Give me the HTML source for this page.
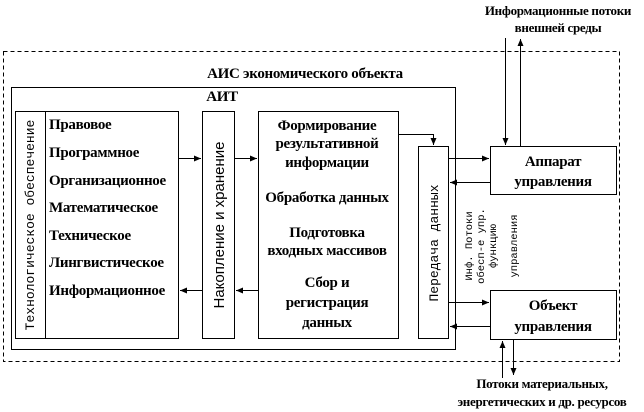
<!DOCTYPE html>
<html><head><meta charset="utf-8"><style>
html,body{margin:0;padding:0;background:#fff;}
svg{display:block;}
.t{font-family:"Liberation Serif",serif;font-weight:bold;font-size:15px;fill:#000;letter-spacing:-0.3px;}
</style></head><body>
<svg width="644" height="412" viewBox="0 0 644 412" xmlns="http://www.w3.org/2000/svg">
<defs>
<marker id="a" markerWidth="8" markerHeight="8" refX="7" refY="4" orient="auto" markerUnits="userSpaceOnUse">
<path d="M0,1 L7,4 L0,7 Z" fill="#000"/></marker>
</defs>
<g fill="none" stroke="#000" stroke-width="1">
<rect x="3.5" y="51.5" width="616" height="310" stroke-dasharray="4,3"/>
<rect x="11.5" y="87.5" width="444" height="262"/>
<rect x="15.5" y="111.5" width="163" height="227"/>
<line x1="45.5" y1="111.5" x2="45.5" y2="338.5"/>
<rect x="202.5" y="111.5" width="32" height="227"/>
<rect x="258.5" y="111.5" width="140" height="227"/>
<rect x="418.5" y="146.5" width="30" height="192"/>
<rect x="490.5" y="146.5" width="126" height="48"/>
<rect x="490.5" y="290.5" width="126" height="49"/>
<line x1="178" y1="158.5" x2="201" y2="158.5" marker-end="url(#a)"/>
<line x1="234" y1="158.5" x2="257" y2="158.5" marker-end="url(#a)"/>
<line x1="202" y1="290.5" x2="180" y2="290.5" marker-end="url(#a)"/>
<line x1="258" y1="290.5" x2="236" y2="290.5" marker-end="url(#a)"/>
<polyline points="398,134.5 433.5,134.5 433.5,145" marker-end="url(#a)"/>
<line x1="448" y1="158.5" x2="489" y2="158.5" marker-end="url(#a)"/>
<line x1="490" y1="182.5" x2="450" y2="182.5" marker-end="url(#a)"/>
<line x1="448" y1="302.5" x2="489" y2="302.5" marker-end="url(#a)"/>
<line x1="490" y1="326.5" x2="450" y2="326.5" marker-end="url(#a)"/>
<line x1="505.5" y1="38" x2="505.5" y2="145" marker-end="url(#a)"/>
<line x1="520.5" y1="146" x2="520.5" y2="39" marker-end="url(#a)"/>
<line x1="502.5" y1="378" x2="502.5" y2="341" marker-end="url(#a)"/>
<line x1="513.5" y1="340" x2="513.5" y2="375" marker-end="url(#a)"/>
</g>
<text class="t" x="305" y="78" text-anchor="middle" font-size="16">АИС экономического объекта</text>
<text class="t" x="222" y="101" text-anchor="middle" font-size="16">АИТ</text>
<text class="t" x="49" y="129">Правовое</text>
<text class="t" x="49" y="157">Программное</text>
<text class="t" x="49" y="185">Организационное</text>
<text class="t" x="49" y="212">Математическое</text>
<text class="t" x="49" y="240">Техническое</text>
<text class="t" x="49" y="267">Лингвистическое</text>
<text class="t" x="49" y="295">Информационное</text>
<g class="t" text-anchor="middle">
<text x="327" y="130">Формирование</text>
<text x="327" y="148">результативной</text>
<text x="327" y="167">информации</text>
<text x="327" y="202">Обработка данных</text>
<text x="327" y="237">Подготовка</text>
<text x="327" y="255">входных массивов</text>
<text x="327" y="287">Сбор и</text>
<text x="327" y="307">регистрация</text>
<text x="327" y="327">данных</text>
<text x="553" y="166">Аппарат</text>
<text x="553" y="186">управления</text>
<text x="553" y="310">Объект</text>
<text x="553" y="331">управления</text>
<text x="558" y="15" font-size="13">Информационные потоки</text>
<text x="558" y="32" font-size="13">внешней среды</text>
<text x="542" y="388" font-size="13">Потоки материальных,</text>
<text x="542" y="406" font-size="13">энергетических и др. ресурсов</text>
</g>
<text font-family="Liberation Mono, monospace" font-size="13" transform="translate(34,225) rotate(-90)" text-anchor="middle">Технологическое обеспечение</text>
<text font-family="Liberation Sans, sans-serif" font-size="15" transform="translate(224,225) rotate(-90)" text-anchor="middle">Накопление и хранение</text>
<text font-family="Liberation Mono, monospace" font-size="13" transform="translate(438,243) rotate(-90)" text-anchor="middle">Передача данных</text>
<g font-family="Liberation Mono, monospace" font-size="10.5" text-anchor="middle">
<text transform="translate(472,246) rotate(-90)">Инф. Потоки</text>
<text transform="translate(484,246) rotate(-90)">обесп-е упр.</text>
<text transform="translate(496,246) rotate(-90)">функцию</text>
<text transform="translate(517,246) rotate(-90)">управления</text>
</g>
</svg>
</body></html>
